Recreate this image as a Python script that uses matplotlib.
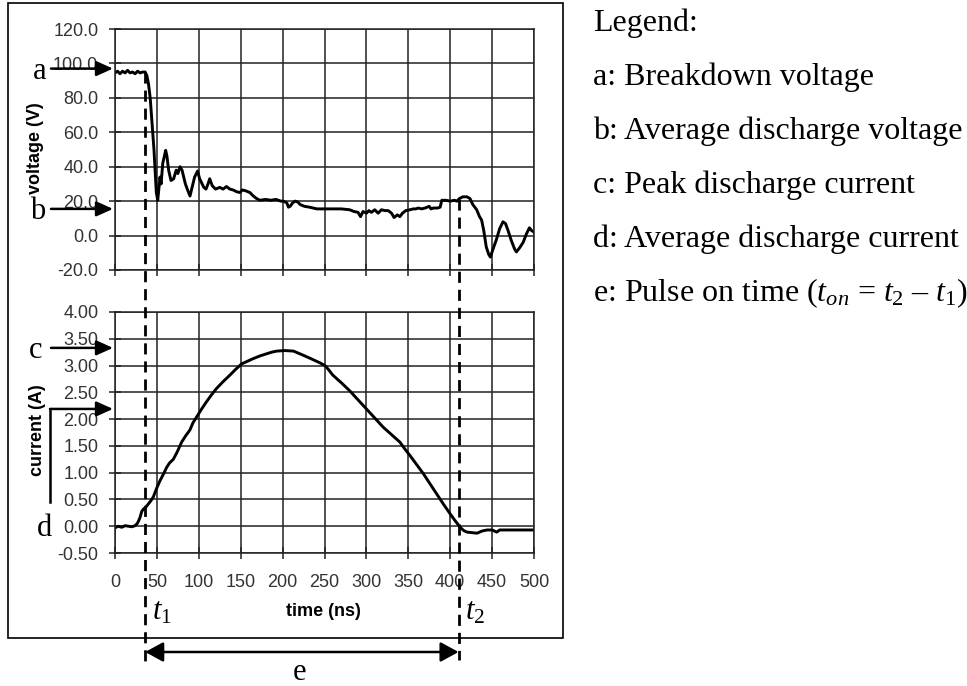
import numpy as np
import matplotlib
matplotlib.use('Agg')
import matplotlib.pyplot as plt
from matplotlib.patches import Rectangle, FancyArrowPatch
from matplotlib.lines import Line2D

plt.rcParams['font.family'] = 'Liberation Sans'
plt.rcParams['axes.unicode_minus'] = False
plt.rcParams['mathtext.fontset'] = 'custom'
plt.rcParams['mathtext.rm'] = 'Liberation Serif'
plt.rcParams['mathtext.it'] = 'Liberation Serif:italic'

# voltage trace (ns, V)
volt_t = [0, 3, 6, 9, 12, 15, 18, 21, 24, 27, 30, 33, 36, 38, 40, 42, 44.5, 46.5,
          49.3, 51, 53.7, 55, 57, 60.5, 62, 64, 66.8, 70, 73, 75, 77.6, 80, 84, 87,
          89.5, 92, 95, 98.6, 101, 104, 106, 108.6, 111, 113, 116, 120, 125, 129,
          133, 137, 141, 145, 149, 152, 156, 161, 165, 169, 173, 180, 186, 192, 198,
          201, 205, 207, 209, 212, 215, 218, 221, 226, 232, 241, 250, 260, 270, 280,
          285, 290, 293, 296, 300, 303, 306, 310, 314, 318, 322, 326, 330, 333, 337,
          340, 343, 347, 352, 356, 359, 362, 366, 370, 375, 377, 380, 385, 388, 390,
          395, 400, 405, 408, 411, 415, 420, 423.6, 427, 431.6, 435, 437.5, 440, 443,
          446, 448, 451, 455, 459, 463, 466, 469, 473, 477, 479, 483, 487, 491, 494.5,
          497, 500]
volt_v = [94.5, 95.5, 94, 95.5, 94.5, 96, 94.5, 95, 94, 95.5, 94.5, 95, 95, 93, 88,
          80, 63, 50, 25, 20.5, 34, 30, 42, 49.5, 46, 38, 32, 33, 38, 36, 40, 38, 30,
          26, 23, 28, 34, 37.5, 33, 30, 28, 27, 30, 33, 29, 27, 28, 27, 28.5, 27,
          26.5, 25.5, 25, 26.5, 26, 25, 23, 21.5, 20.5, 21, 20.5, 21, 20, 20, 19, 16.5,
          17, 19, 20, 19.5, 18, 17, 16.5, 15.5, 15.5, 15.5, 15.5, 15, 14, 13.5, 11, 14,
          13, 14.5, 13.5, 15, 13, 15, 14.5, 14.5, 13, 10.5, 12, 11, 13, 14.5, 15, 15.5,
          15.5, 16, 15.5, 16, 17, 15.5, 16, 16, 16.5, 20.5, 20.5, 20, 20.5, 20, 21.5,
          22.5, 22.5, 21.5, 18, 15, 11, 9, 3, -6.5, -11, -12.5, -8, -2.5, 4, 8, 7, 3,
          -3, -8, -9.5, -7, -4, 1, 4.5, 3, 2]

# current trace (ns, A)
curr_t = [0, 4, 8, 12, 16, 20, 24, 27, 29.8, 32, 34, 37, 40, 43, 45.8, 50, 53.7, 58,
          61.7, 65, 69.6, 74, 79.5, 84, 89.5, 93, 97.4, 103, 109, 115, 121, 129, 137,
          144, 151, 158, 165, 173, 181, 187, 193, 203, 213, 219, 225, 235, 244.6,
          250.6, 255, 260, 270, 280, 290, 300, 310, 320, 330, 340, 346, 352, 360, 368,
          376, 384, 392, 400, 406, 412, 416, 420, 426, 432, 438, 444, 450, 455.6, 459,
          470, 485, 500]
curr_a = [-0.03, 0.0, -0.02, 0.01, 0.0, -0.01, 0.01, 0.06, 0.16, 0.28, 0.32, 0.36,
          0.42, 0.48, 0.55, 0.72, 0.85, 0.98, 1.10, 1.18, 1.25, 1.38, 1.57, 1.68, 1.80,
          1.93, 2.04, 2.18, 2.32, 2.45, 2.57, 2.70, 2.82, 2.93, 3.03, 3.08, 3.13, 3.18,
          3.22, 3.25, 3.27, 3.28, 3.27, 3.23, 3.19, 3.12, 3.05, 3.00, 2.92, 2.82, 2.68,
          2.53, 2.36, 2.19, 2.02, 1.85, 1.71, 1.57, 1.44, 1.32, 1.15, 0.98, 0.79, 0.60,
          0.41, 0.23, 0.10, -0.02, -0.08, -0.11, -0.12, -0.13, -0.09, -0.07, -0.07,
          -0.11, -0.07, -0.07, -0.07, -0.07]

time_ticks = [0, 50, 100, 150, 200, 250, 300, 350, 400, 450, 500]
volt_ticks = [-20, 0, 20, 40, 60, 80, 100, 120]
curr_ticks = [-0.5, 0, 0.5, 1.0, 1.5, 2.0, 2.5, 3.0, 3.5, 4.0]

t1, t2 = 36, 410          # pulse start / end (ns)
v_break, v_avg = 97, 15.5  # markers a, b
i_peak, i_avg = 3.33, 2.19  # markers c, d

legend_lines = ['Legend:',
                'a: Breakdown voltage',
                'b: Average discharge voltage',
                'c: Peak discharge current',
                'd: Average discharge current',
                'e: Pulse on time ($t_{on}$ = $t_2$ \u2013 $t_\\mathit{1}$)']

W, H = 967, 686


def fx(px):
    return px / W


def fy(py):
    return 1 - py / H


fig = plt.figure(figsize=(W / 100, H / 100), dpi=100)
ax1 = fig.add_axes([fx(115), fy(270), fx(534) - fx(115), fy(29) - fy(270)])
ax2 = fig.add_axes([fx(115), fy(553), fx(534) - fx(115), fy(312) - fy(553)])

grid_c = '#222222'
lab_c = '#333333'
for ax in (ax1, ax2):
    ax.set_xlim(0, 500)
    ax.set_xticks(time_ticks)
    ax.grid(True, color=grid_c, lw=1.1)
    for s in ax.spines.values():
        s.set_color(grid_c)
        s.set_linewidth(1.1)
    ax.tick_params(direction='inout', length=8, width=1.1, color=grid_c,
                   labelsize=13, labelcolor=lab_c)
    ax.tick_params(axis='y', pad=8)
    ax.tick_params(axis='x', pad=11)

ax1.plot(volt_t, volt_v, color='black', lw=2.1)
ax1.set_ylim(-20, 120)
ax1.set_yticks(volt_ticks)
ax1.set_yticklabels([f'{v:.1f}' for v in volt_ticks])
ax1.tick_params(axis='x', labelbottom=False)

ax2.plot(curr_t, curr_a, color='black', lw=2.1)
ax2.set_ylim(-0.5, 4.0)
ax2.set_yticks(curr_ticks)
ax2.set_yticklabels([f'{v:.2f}' for v in curr_ticks])
ax2.set_xticklabels([str(t) for t in time_ticks])

fig.text(fx(35), fy(148), 'voltage (V)', rotation=90, ha='center', va='center',
         fontsize=13, fontweight='bold')
fig.text(fx(38), fy(430), 'current (A)', rotation=90, ha='center', va='center',
         fontsize=13, fontweight='bold')
fig.text(fx(323), fy(611), 'time (ns)', ha='center', va='center',
         fontsize=13, fontweight='bold')

# outer frame
fig.patches.append(Rectangle((fx(8), fy(638)), fx(563) - fx(8), fy(3) - fy(638),
                             transform=fig.transFigure, fill=False, ec='black',
                             lw=1.2))


def to_fig(ax, x, y):
    return fig.transFigure.inverted().transform(ax.transData.transform((x, y)))


# dashed t1 / t2 markers
for t, v, end in ((t1, 95, 665), (t2, 21, 660)):
    x0, y0 = to_fig(ax1, t, v)
    fig.add_artist(Line2D([x0, x0], [y0, fy(end)], transform=fig.transFigure,
                          color='black', lw=2.0, ls=(0, (4, 2.5))))

# e arrow
xa, _ = to_fig(ax2, t1, 0)
xb, _ = to_fig(ax2, t2, 0)
fig.patches.append(FancyArrowPatch((xa, fy(652)), (xb, fy(652)),
                                   transform=fig.transFigure,
                                   arrowstyle='<|-|>,head_length=11,head_width=6',
                                   color='black', lw=1.8, shrinkA=0, shrinkB=0))

serif = 'Liberation Serif'
fig.text(fx(300), fy(672), 'e', ha='center', va='center', fontsize=22, family=serif)
fig.text(fx(152), fy(612), '$t_\\mathit{1}$', ha='left', va='center', fontsize=22)
fig.text(fx(465), fy(612), '$t_2$', ha='left', va='center', fontsize=22)

# side arrows a, b, c, d
x_tip = fx(113)
for ax, val, letter, lx in ((ax1, v_break, 'a', 40), (ax1, v_avg, 'b', 38),
                            (ax2, i_peak, 'c', 36)):
    _, yv = to_fig(ax, 0, val)
    fig.patches.append(FancyArrowPatch((fx(51), yv), (x_tip, yv),
                                       transform=fig.transFigure,
                                       arrowstyle='-|>,head_length=10,head_width=4.5',
                                       color='black', lw=1.8, shrinkA=0, shrinkB=0))
    fig.text(fx(lx), yv - 0.004, letter, ha='center', va='center', fontsize=22,
             family=serif)

_, yd = to_fig(ax2, 0, i_avg)
fig.add_artist(Line2D([fx(50), fx(50)], [fy(502), yd], transform=fig.transFigure,
                      color='black', lw=1.8))
fig.patches.append(FancyArrowPatch((fx(50), yd), (x_tip, yd),
                                   transform=fig.transFigure,
                                   arrowstyle='-|>,head_length=10,head_width=4.5',
                                   color='black', lw=1.8, shrinkA=0, shrinkB=0))
_, y0 = to_fig(ax2, 0, 0)
fig.text(fx(45), y0 - 0.004, 'd', ha='center', va='center', fontsize=22, family=serif)

# legend text
for i, line in enumerate(legend_lines):
    fig.text(fx(593), fy(31 + 54 * i), line, ha='left', va='baseline',
             fontsize=23, family=serif)

fig.savefig('out.png', dpi=100, facecolor='white')
